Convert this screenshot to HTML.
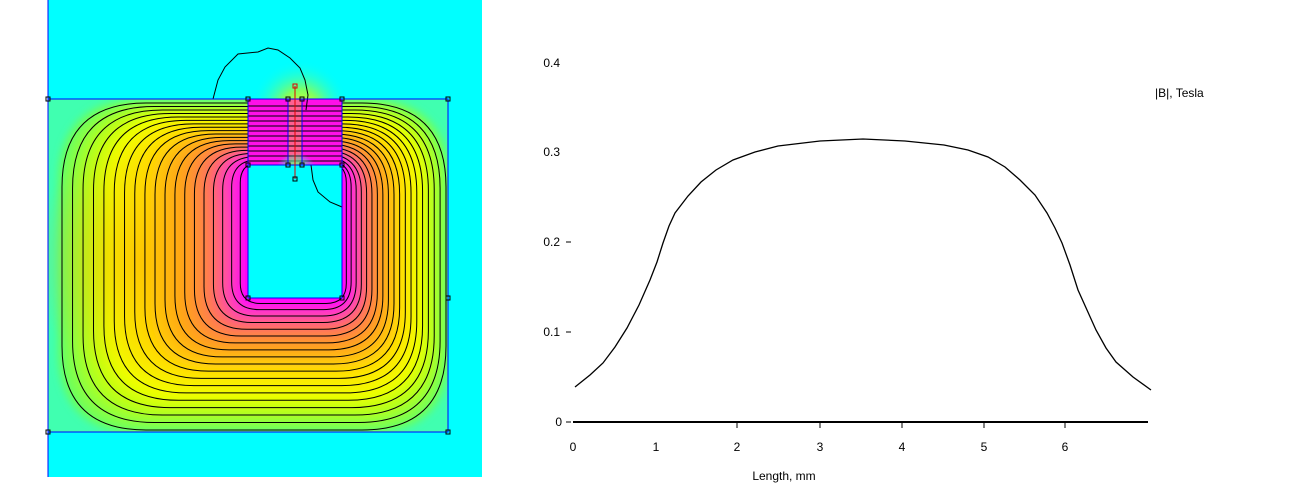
<!DOCTYPE html>
<html><head><meta charset="utf-8">
<style>
html,body{margin:0;padding:0;background:#fff;width:1299px;height:492px;overflow:hidden}
svg{position:absolute;left:0;top:0}
text{font-family:"Liberation Sans",sans-serif;font-size:12px;fill:#000}
</style></head><body>
<svg id="s" width="1299" height="492" xmlns="http://www.w3.org/2000/svg">
<defs>
<clipPath id="core"><rect x="48" y="99" width="400" height="333"/></clipPath>
<radialGradient id="glow" cx="50%" cy="50%" r="50%">
<stop offset="0" stop-color="#f0ff20"/><stop offset="0.4" stop-color="#80ff60"/><stop offset="1" stop-color="#00ffff" stop-opacity="0"/>
</radialGradient>
<radialGradient id="lft" cx="50%" cy="50%" r="50%">
<stop offset="0" stop-color="#ffb000" stop-opacity="0.55"/><stop offset="1" stop-color="#ffb000" stop-opacity="0"/>
</radialGradient>
<filter id="bl"><feGaussianBlur stdDeviation="4"/></filter>
</defs>
<rect x="48" y="0" width="434" height="477" fill="#00ffff"/>
<circle cx="300" cy="110" r="50" fill="url(#glow)"/>
<rect x="48" y="99" width="400" height="333" fill="#40ffb0"/>
<g id="bands" clip-path="url(#core)" filter="url(#bl)"></g>
<ellipse cx="140" cy="260" rx="110" ry="120" fill="url(#lft)" clip-path="url(#core)"/>
<g id="lines" clip-path="url(#core)" fill="none" stroke="#000" stroke-width="1"></g>
<rect x="248" y="99" width="94" height="66" fill="#ff10e8"/>
<rect x="288" y="99" width="14" height="66" fill="#ff6090"/>
<g id="barlines" stroke="#000" stroke-width="1"></g>
<circle cx="296" cy="175" r="22" fill="url(#glow)"/>
<rect x="248" y="165" width="94" height="133" fill="#00ffff"/>
<path d="M213,99 L218,80 L225,67 L238,54 L258,52 L268,48 L278,50 L290,58 L300,68 L305,80 L308,95 L306,110 M311,165 L313,180 L318,192 L330,202 L342,207" fill="none" stroke="#000"/>
<g fill="none" stroke="#0000ff" stroke-width="1">
<line x1="48" y1="0" x2="48" y2="477"/>
<rect x="48" y="99" width="400" height="333"/>
<rect x="248" y="165" width="94" height="133"/>
<line x1="248" y1="99" x2="248" y2="165"/><line x1="342" y1="99" x2="342" y2="165"/>
<line x1="288" y1="99" x2="288" y2="165"/><line x1="302" y1="99" x2="302" y2="165"/>
</g>
<line x1="295" y1="86" x2="295" y2="179" stroke="#e00000"/>
<g id="marks" fill="none" stroke="#000"></g>

<!-- chart -->
<line x1="573" y1="422" x2="1148" y2="422" stroke="#000" stroke-width="2"/>
<g stroke="#000">
<line x1="737" y1="422" x2="737" y2="428"/><line x1="820" y1="422" x2="820" y2="428"/>
<line x1="902" y1="422" x2="902" y2="428"/><line x1="984" y1="422" x2="984" y2="428"/>
<line x1="1065" y1="422" x2="1065" y2="428"/>
<line x1="566" y1="422" x2="571" y2="422"/><line x1="566" y1="332" x2="571" y2="332"/><line x1="566" y1="242" x2="571" y2="242"/>
</g>
<g text-anchor="middle">
<text x="573" y="451">0</text><text x="656" y="451">1</text><text x="737" y="451">2</text>
<text x="820" y="451">3</text><text x="902" y="451">4</text><text x="984" y="451">5</text><text x="1065" y="451">6</text>
<text x="784" y="480">Length, mm</text>
</g>
<g text-anchor="end">
<text x="562" y="426">0</text><text x="560" y="336">0.1</text><text x="560" y="246">0.2</text>
<text x="560" y="156">0.3</text><text x="560" y="67">0.4</text>
</g>
<text x="1155" y="97">|B|, Tesla</text>
<polyline fill="none" stroke="#000" stroke-width="1.3" points="575,387 590,375 603,363 615,347 627,328 639,305 650,280 657,262 663,243 669,226 675,213 688,196 701,182 716,170 733,160 755,152 778,146 820,141 863,139 905,141 944,145 968,150 988,157 1005,167 1020,180 1035,195 1047,213 1055,228 1062,243 1070,265 1078,290 1087,310 1096,330 1106,348 1116,362 1133,377 1151,390"/>
</svg>
<script>
(function(){
var NS="http://www.w3.org/2000/svg";
var stops=[[0,[255,0,255]],[0.1,[255,60,190]],[0.2,[255,110,100]],[0.35,[255,160,30]],[0.55,[255,225,0]],[0.72,[240,255,0]],[0.86,[175,255,30]],[1,[100,255,100]]];
function col(t){for(var i=1;i<stops.length;i++){if(t<=stops[i][0]){var a=stops[i-1],b=stops[i],f=(t-a[0])/(b[0]-a[0]);return "rgb("+[0,1,2].map(function(k){return Math.round(a[1][k]+(b[1][k]-a[1][k])*f)}).join(",")+")";}}return "rgb(100,255,100)";}
function rr(t,e){var l=248-186*t-e,r=342+104*t+e,tp=165-62*t-e,b=298+132*t+e,R=4+80*Math.sqrt(t);
R=Math.min(R,(r-l)/2,(b-tp)/2);
return "M"+(l+R)+","+tp+" L"+(r-R)+","+tp+" Q"+r+","+tp+" "+r+","+(tp+R)+" L"+r+","+(b-R)+" Q"+r+","+b+" "+(r-R)+","+b+" L"+(l+R)+","+b+" Q"+l+","+b+" "+l+","+(b-R)+" L"+l+","+(tp+R)+" Q"+l+","+tp+" "+(l+R)+","+tp+"Z";}
var bands=document.getElementById("bands"),lines=document.getElementById("lines");
for(var i=40;i>=0;i--){var t=i/40;var p=document.createElementNS(NS,"path");p.setAttribute("d",rr(t,4));p.setAttribute("fill",col(t));bands.appendChild(p);}
var N=19;
for(var i=1;i<=N;i++){var t=Math.pow(i/N,1.08);var p=document.createElementNS(NS,"path");p.setAttribute("d",rr(t,0));lines.appendChild(p);}
var bl=document.getElementById("barlines");
for(var y=106;y<165;y+=5){var l=document.createElementNS(NS,"line");l.setAttribute("x1",248);l.setAttribute("x2",342);l.setAttribute("y1",y);l.setAttribute("y2",y);bl.appendChild(l);}
var m=document.getElementById("marks");
[[48,99],[248,99],[288,99],[302,99],[342,99],[448,99],[248,165],[288,165],[302,165],[342,165],[248,298],[342,298],[448,298],[48,432],[448,432],[295,179]].forEach(function(q){var r=document.createElementNS(NS,"rect");r.setAttribute("x",q[0]-2);r.setAttribute("y",q[1]-2);r.setAttribute("width",4);r.setAttribute("height",4);m.appendChild(r);});
var r=document.createElementNS(NS,"rect");r.setAttribute("x",293);r.setAttribute("y",84);r.setAttribute("width",4);r.setAttribute("height",4);r.setAttribute("stroke","#e00000");m.appendChild(r);
})();
</script>
</body></html>
